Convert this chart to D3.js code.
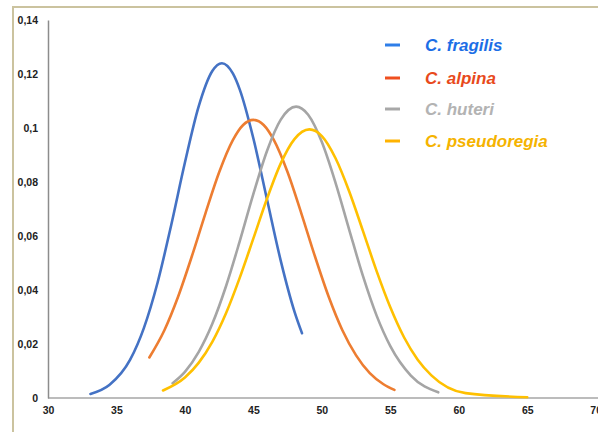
<!DOCTYPE html>
<html><head><meta charset="utf-8">
<script src="https://cdn.jsdelivr.net/npm/d3@7"></script>
<style>body{margin:0;background:#fff}svg{display:block}</style>
</head><body>
<svg id="c" width="598" height="432"></svg>
<script>
const xTicks = [30,35,40,45,50,55,60,65,70];
const yTicks = [0,0.02,0.04,0.06,0.08,0.1,0.12,0.14];
const yTickLabels = ["0","0,02","0,04","0,06","0,08","0,1","0,12","0,14"];
const seriesNames = ["C. fragilis","C. alpina","C. huteri","C. pseudoregia"];

const fragilisX = [33.1,34.5,36,37,38,39,40,41,42,42.7,43.5,44,45,46,47,48,48.55];
const fragilisY = [0.0015,0.0049,0.0142,0.0259,0.0427,0.0641,0.0872,0.1079,0.1211,0.124,0.1202,0.1143,0.0961,0.0734,0.0508,0.0320,0.0240];
const alpinaX = [37.4,38.5,39.5,40.5,41.5,42.5,43.5,44.25,45,45.75,46.5,47.5,48.5,49.5,50.5,51.5,52.5,53.5,54.5,55.3];
const alpinaY = [0.0150,0.0251,0.0375,0.0524,0.0684,0.0836,0.0955,0.1011,0.103,0.1011,0.0955,0.0836,0.0684,0.0524,0.0375,0.0251,0.0158,0.0092,0.0051,0.0030];
const huteriX = [39.1,40,41,42,43,44,45,46,47,48.12,49,50,51,52,53,54,55,56.5,58.5];
const huteriY = [0.0055,0.0097,0.0170,0.0275,0.0414,0.0580,0.0756,0.0916,0.1031,0.1079,0.1049,0.0948,0.0797,0.0623,0.0452,0.0305,0.0192,0.0083,0.0021];
const pseudoX = [38.4,40,41,42,43,44,45,46,47,48,49.09,50,51,52,53,54,55,56,57,58,60.5,65];
const pseudoY = [0.0028,0.0076,0.0130,0.0208,0.0314,0.0445,0.0591,0.0739,0.0869,0.0959,0.0995,0.0970,0.0888,0.0765,0.0619,0.0470,0.0336,0.0225,0.0142,0.0084,0.0018,0.0003];

const lineColors = ["#4472C4","#ED7D31","#A5A5A5","#FFC000"];
const legendLineColors = ["#2f7ee8","#ef4f1f","#a8a8a8","#ffb300"];
const legendTextColors = ["#1c6ee6","#e84a1c","#b3b3b3","#f5b300"];

const svg = d3.select("#c");
const x = d3.scaleLinear().domain([30,70]).range([48,595.7]);
const y = d3.scaleLinear().domain([0,0.14]).range([398,20]);

// frame
svg.append("path").attr("d","M13,432 L13,7 L598,7").attr("fill","none")
  .attr("stroke","#cbc39f").attr("stroke-width",2);

// axes
const xAxis = d3.axisBottom(x).tickValues(xTicks).tickSize(0).tickPadding(9).tickFormat(d3.format("d"));
const gx = svg.append("g").attr("transform","translate(0,398)").call(xAxis);
gx.select(".domain").attr("stroke","#a6a6a6").attr("stroke-width",1.5).attr("d","M48,0H598");
gx.selectAll("text").attr("font-family","Liberation Sans, Arial, sans-serif").attr("font-size","10.5px")
  .attr("font-weight","bold").attr("fill","#222");

const yAxis = d3.axisLeft(y).tickValues(yTicks).tickSize(0).tickPadding(10)
  .tickFormat((d,i)=>yTickLabels[i]);
const gy = svg.append("g").attr("transform","translate(48,0)").call(yAxis);
gy.select(".domain").attr("stroke","#8c8c8c").attr("stroke-width",1.5);
gy.selectAll("text").attr("font-family","Liberation Sans, Arial, sans-serif").attr("font-size","10.5px")
  .attr("font-weight","bold").attr("fill","#222");

const series = [
  [fragilisX, fragilisY],
  [alpinaX, alpinaY],
  [huteriX, huteriY],
  [pseudoX, pseudoY]
];
const line = d3.line().x(d=>x(d[0])).y(d=>y(d[1])).curve(d3.curveMonotoneX);
series.forEach((s,i)=>{
  const pts = s[0].map((v,j)=>[v,s[1][j]]);
  svg.append("path").datum(pts).attr("d",line).attr("fill","none")
    .attr("stroke",lineColors[i]).attr("stroke-width",2.6).attr("stroke-linecap","round");
});

// legend
const legY = [45,78,109,141];
const lg = svg.append("g");
seriesNames.forEach((n,i)=>{
  lg.append("line").attr("x1",385).attr("x2",400).attr("y1",legY[i]).attr("y2",legY[i])
    .attr("stroke",legendLineColors[i]).attr("stroke-width",3);
  lg.append("text").attr("x",425).attr("y",legY[i]).attr("dy","0.35em")
    .attr("font-family","Liberation Sans, Arial, sans-serif").attr("font-size","17px")
    .attr("font-weight","bold").attr("font-style","italic").attr("fill",legendTextColors[i]).text(n);
});
</script>
</body></html>
